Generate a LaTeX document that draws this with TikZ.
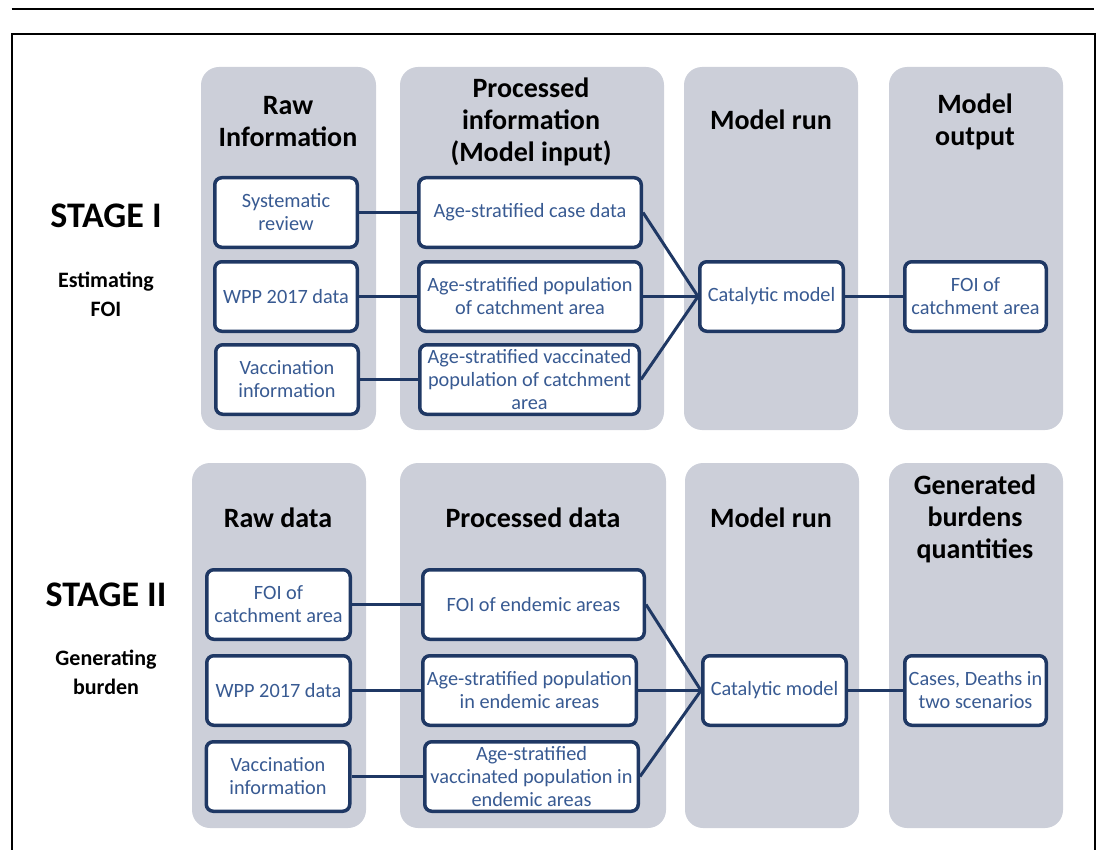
\documentclass[tikz,border=0pt]{standalone}
\usepackage{fontspec}
\setmainfont{Carlito}
\definecolor{fdInk}{HTML}{1F3864}
\definecolor{fdText}{HTML}{385A92}
\definecolor{fdLane}{HTML}{CCCFD9}
\tikzset{
  lane/.style     ={fill=fdLane,rounded corners=18pt,inner sep=0pt},
  infobox/.style  ={draw=fdInk,fill=white,line width=3.5pt,rounded corners=7pt,
                    inner sep=0pt,align=center,text=fdText,
                    font=\fontsize{20.3}{23}\selectfont},
  hdr/.style      ={align=center,inner sep=0pt,font=\fontsize{28}{32}\selectfont\bfseries},
  stagelbl/.style ={inner sep=0pt,font=\fontsize{36}{40}\selectfont\bfseries},
  stagesub/.style ={align=center,inner sep=0pt,font=\fontsize{22}{29}\selectfont\bfseries},
  link/.style     ={fdInk,line width=3pt},
  frame/.style    ={black,line width=1.5pt},
}
\begin{document}
\begin{tikzpicture}[x=1pt,y=-1pt]
\useasboundingbox (0,0) rectangle (1099,850);
\node[inner sep=0pt] (tl) at (11,9) {};
\node[inner sep=0pt] (tr) at (1095,9) {};
\draw[frame] (tl) -- (tr);
\draw[frame] (12,850) -- (12,34) -- (1095,34) -- (1095,850);

%% stage I lanes
\node[lane,minimum width=175pt,minimum height=363pt] (rawA) at (288.5,248.5) {};
\node[lane,minimum width=264pt,minimum height=363pt] (procA) at (532,248.5) {};
\node[lane,minimum width=174pt,minimum height=363pt] (runA) at (771,248.5) {};
\node[lane,minimum width=174pt,minimum height=363pt] (outA) at (976,248.5) {};
%% stage II lanes
\node[lane,minimum width=174pt,minimum height=365pt] (rawB) at (279,645.5) {};
\node[lane,minimum width=266pt,minimum height=365pt] (procB) at (533,645.5) {};
\node[lane,minimum width=174pt,minimum height=365pt] (runB) at (772,645.5) {};
\node[lane,minimum width=174pt,minimum height=365pt] (outB) at (976,645.5) {};

%% headers
\node[hdr] (hRawA) at (288,121.5) {Raw\\Information};
\node[hdr] (hProcA) at (531,121.5) {Processed\\information\\(Model input)};
\node[hdr] (hRunA) at (771,120) {Model run};
\node[hdr] (hOutA) at (975,122) {Model\\output};
\node[hdr] (hRawB) at (278,518) {Raw data};
\node[hdr] (hProcB) at (533,518) {Processed data};
\node[hdr] (hRunB) at (771,518) {Model run};
\node[hdr] (hOutB) at (975,519) {Generated\\burdens\\quantities};

%% stage labels
\node[stagelbl] (stA) at (106,216) {STAGE I};
\node[stagesub] (subA) at (106,294) {Estimating\\FOI};
\node[stagelbl] (stB) at (106,595) {STAGE II};
\node[stagesub] (subB) at (106,672.5) {Generating\\burden};

%% stage I boxes
\node[infobox,minimum width=142.5pt,minimum height=69.5pt] (sysrev) at (286,212.5) {Systematic\\review};
\node[infobox,minimum width=142.5pt,minimum height=69.5pt] (wppA) at (286,296.5) {WPP 2017 data};
\node[infobox,minimum width=142.5pt,minimum height=69.5pt] (vacA) at (287,379.5) {Vaccination\\information};
\node[infobox,minimum width=222.5pt,minimum height=69.5pt] (casedat) at (530,212.5) {Age-stratified case data};
\node[infobox,minimum width=222.5pt,minimum height=69.5pt] (popcatch) at (530,296.5) {Age-stratified population\\of catchment area};
\node[infobox,minimum width=219.5pt,minimum height=69.5pt] (vaccatch) at (529.5,379.5) {Age-stratified vaccinated\\population of catchment\\area};
\node[infobox,minimum width=143.5pt,minimum height=69.5pt] (catA) at (771.5,296.5) {Catalytic model};
\node[infobox,minimum width=141.5pt,minimum height=69.5pt] (foicatch) at (975.5,296.5) {FOI of\\catchment area};

%% stage II boxes
\node[infobox,minimum width=143.5pt,minimum height=69.5pt] (foiin) at (278.5,604.5) {FOI of\\catchment area};
\node[infobox,minimum width=143.5pt,minimum height=69.5pt] (wppB) at (278.5,690.5) {WPP 2017 data};
\node[infobox,minimum width=143.5pt,minimum height=69.5pt] (vacB) at (278,776.5) {Vaccination\\information};
\node[infobox,minimum width=221.5pt,minimum height=69.5pt] (foiend) at (533.5,604.5) {FOI of endemic areas};
\node[infobox,minimum width=213.5pt,minimum height=69.5pt] (popend) at (529.5,690.5) {Age-stratified population\\in endemic areas};
\node[infobox,minimum width=213.5pt,minimum height=69.5pt] (vacend) at (531.5,776.5) {Age-stratified\\vaccinated population in\\endemic areas};
\node[infobox,minimum width=143.5pt,minimum height=69.5pt] (catB) at (774.5,690.5) {Catalytic model};
\node[infobox,minimum width=141.5pt,minimum height=69.5pt] (burden) at (975.5,690.5) {Cases, Deaths in\\two scenarios};

%% connectors
\foreach \a/\b in {sysrev/casedat,wppA/popcatch,vacA/vaccatch,casedat/catA,
                   popcatch/catA,vaccatch/catA,catA/foicatch,
                   foiin/foiend,wppB/popend,vacB/vacend,foiend/catB,
                   popend/catB,vacend/catB,catB/burden}
  { \draw[link] (\a.east) -- (\b.west); }
\end{tikzpicture}
\end{document}
